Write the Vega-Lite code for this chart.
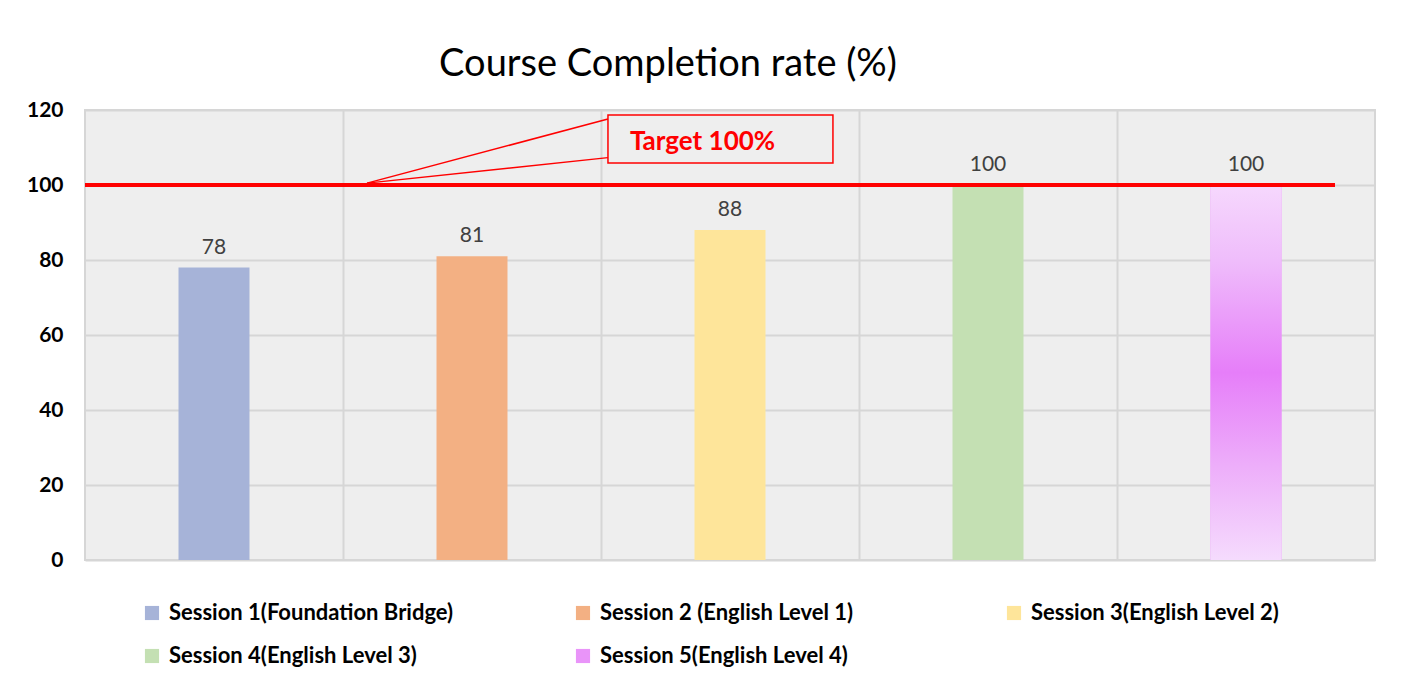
{
  "$schema": "https://vega.github.io/schema/vega-lite/v6.json",
  "width": 1290,
  "height": 450,
  "autosize": {"type": "none"},
  "padding": {"left": 85, "top": 110, "right": 35, "bottom": 128},
  "background": "white",
  "title": {
    "text": "Course Completion rate (%)",
    "fontSize": 38,
    "font": "Lato",
    "fontWeight": "normal",
    "color": "black",
    "anchor": "middle",
    "dx": -62,
    "baseline": "alphabetic",
    "offset": -15
  },
  "config": {
    "view": {"fill": "#eeeeee", "stroke": "#d6d6d6", "strokeWidth": 2},
    "font": "Lato"
  },
  "datasets": {
    "sessions": [
      {"session": "Session 1(Foundation Bridge)", "rate": 78},
      {"session": "Session 2 (English Level 1)", "rate": 81},
      {"session": "Session 3(English Level 2)", "rate": 88},
      {"session": "Session 4(English Level 3)", "rate": 100},
      {"session": "Session 5(English Level 4)", "rate": 100}
    ],
    "target": [{"x": 0, "x2": 4.845, "y": 100}],
    "callout_box": [{"x": 2.027, "x2": 2.899, "y": 105.9, "y2": 118.7}],
    "callout_lines": [
      {"x": 1.093, "y": 100.5, "x2": 2.027, "y2": 117.6},
      {"x": 1.093, "y": 100.5, "x2": 2.027, "y2": 107.3}
    ],
    "callout_text": [{"x": 2.112, "y": 111.5, "label": "Target 100%"}]
  },
  "layer": [
    {
      "layer": [
        {
          "data": {"name": "sessions"},
          "mark": {"type": "bar", "size": 71},
          "encoding": {
            "x": {
              "field": "session",
              "type": "nominal",
              "sort": null,
              "scale": {"paddingInner": 0, "paddingOuter": 0},
              "axis": null
            },
            "y": {
              "field": "rate",
              "type": "quantitative",
              "scale": {"domain": [0, 120]},
              "axis": {
                "values": [0, 20, 40, 60, 80, 100, 120],
                "title": null,
                "domain": false,
                "ticks": false,
                "labelPadding": 22,
                "labelFont": "Lato",
                "labelFontSize": 21,
                "labelFontWeight": "bold",
                "labelColor": "black",
                "gridColor": "#d6d6d6",
                "gridWidth": 2
              }
            },
            "color": {
              "field": "session",
              "type": "nominal",
              "scale": {
                "domain": [
                  "Session 1(Foundation Bridge)",
                  "Session 2 (English Level 1)",
                  "Session 3(English Level 2)",
                  "Session 4(English Level 3)",
                  "Session 5(English Level 4)"
                ],
                "range": ["#a6b3d8", "#f3b083", "#fee59a", "#c4e0b3", "#e994f9"]
              },
              "legend": {
                "orient": "none",
                "legendX": 56,
                "legendY": 492,
                "direction": "horizontal",
                "columns": 3,
                "gridAlign": "all",
                "title": null,
                "symbolType": "square",
                "symbolSize": 200,
                "symbolStrokeWidth": 0,
                "labelFont": "Lato",
                "labelFontSize": 22,
                "labelFontWeight": "bold",
                "labelColor": "black",
                "labelOffset": 6,
                "labelLimit": 400,
                "columnPadding": 118,
                "rowPadding": 21
              }
            }
          }
        },
        {
          "data": {"name": "sessions"},
          "transform": [{"filter": "datum.session == 'Session 5(English Level 4)'"}],
          "mark": {
            "type": "bar",
            "size": 71,
            "fill": {
              "gradient": "linear",
              "x1": 0, "y1": 0, "x2": 0, "y2": 1,
              "stops": [
                {"offset": 0, "color": "#f6d8fd"},
                {"offset": 0.2, "color": "#efbdfb"},
                {"offset": 0.5, "color": "#e67ef9"},
                {"offset": 0.75, "color": "#edaefa"},
                {"offset": 1, "color": "#f5dbfd"}
              ]
            }
          },
          "encoding": {
            "x": {"field": "session", "type": "nominal", "sort": null},
            "y": {"field": "rate", "type": "quantitative"}
          }
        },
        {
          "data": {"name": "sessions"},
          "mark": {
            "type": "text",
            "baseline": "bottom",
            "dy": -10,
            "font": "Lato",
            "fontSize": 21,
            "color": "#404040"
          },
          "encoding": {
            "x": {"field": "session", "type": "nominal", "sort": null},
            "y": {"field": "rate", "type": "quantitative"},
            "text": {"field": "rate", "type": "quantitative"}
          }
        }
      ]
    },
    {
      "layer": [
        {
          "data": {"name": "target"},
          "mark": {"type": "rule", "color": "#ff0000", "strokeWidth": 4},
          "encoding": {
            "x": {
              "field": "x",
              "type": "quantitative",
              "scale": {"domain": [0, 5], "nice": false, "zero": false},
              "axis": {
                "orient": "bottom",
                "values": [1, 2, 3, 4],
                "grid": true,
                "gridColor": "#d6d6d6",
                "gridWidth": 2,
                "labels": false,
                "ticks": false,
                "domain": false,
                "title": null
              }
            },
            "x2": {"field": "x2"},
            "y": {"field": "y", "type": "quantitative"}
          }
        },
        {
          "data": {"name": "callout_lines"},
          "mark": {"type": "rule", "color": "#ff0000", "strokeWidth": 1.5},
          "encoding": {
            "x": {"field": "x", "type": "quantitative"},
            "x2": {"field": "x2"},
            "y": {"field": "y", "type": "quantitative"},
            "y2": {"field": "y2"}
          }
        },
        {
          "data": {"name": "callout_box"},
          "mark": {"type": "rect", "fill": null, "fillOpacity": 0, "stroke": "#ff0000", "strokeWidth": 1.5},
          "encoding": {
            "x": {"field": "x", "type": "quantitative"},
            "x2": {"field": "x2"},
            "y": {"field": "y", "type": "quantitative"},
            "y2": {"field": "y2"}
          }
        },
        {
          "data": {"name": "callout_text"},
          "mark": {
            "type": "text",
            "align": "left",
            "baseline": "middle",
            "font": "Lato",
            "fontSize": 26,
            "fontWeight": "bold",
            "color": "#ff0000"
          },
          "encoding": {
            "x": {"field": "x", "type": "quantitative"},
            "y": {"field": "y", "type": "quantitative"},
            "text": {"field": "label", "type": "nominal"}
          }
        }
      ]
    }
  ],
  "resolve": {"scale": {"x": "independent"}, "axis": {"x": "independent"}}
}
